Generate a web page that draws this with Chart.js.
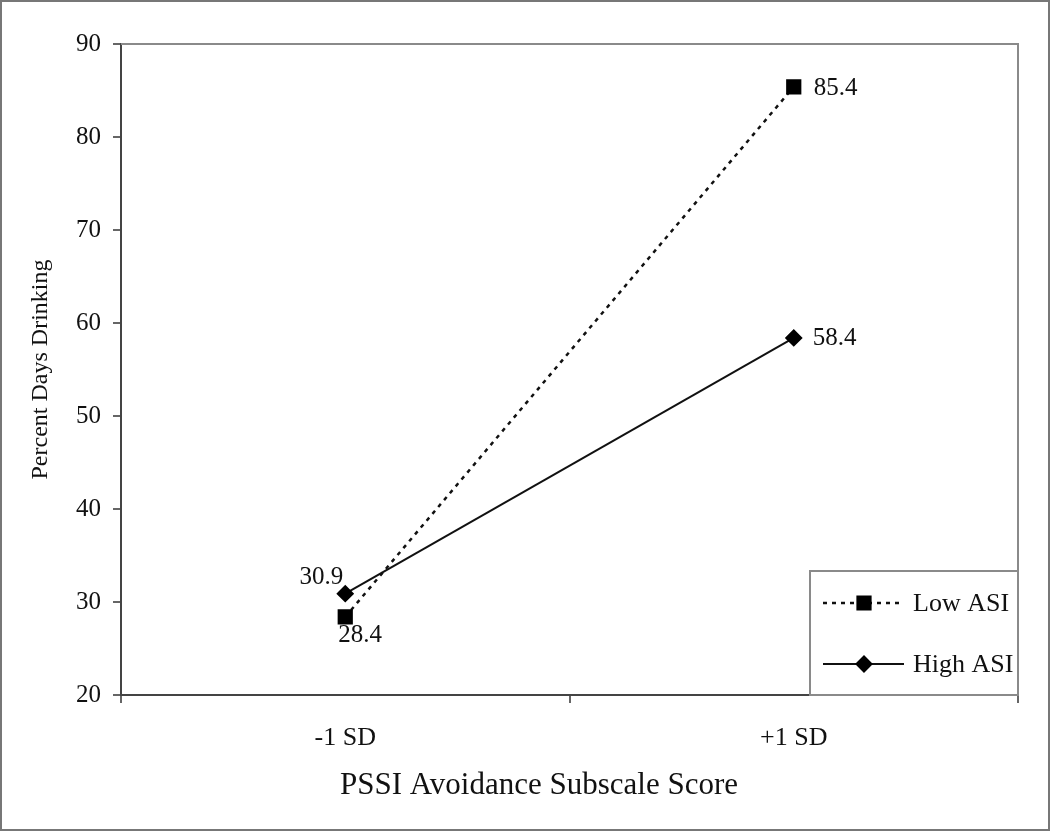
<!DOCTYPE html>
<html>
<head>
<meta charset="utf-8">
<script src="https://cdn.jsdelivr.net/npm/chart.js@4"></script>
<style>
    html, body { margin: 0; padding: 0; background: #fff; }
    #wrap { width: 1050px; height: 831px; position: relative; }
</style>
</head>
<body>
<div id="wrap"><canvas id="interactionChart"></canvas></div>
<script>
// Data
const categories = ['-1 SD', '+1 SD'];
const lowASI = [28.4, 85.4];
const highASI = [30.9, 58.4];
const yTicks = { min: 20, max: 90, step: 10 };
const xTitle = 'PSSI Avoidance Subscale Score';

const serif = "'Liberation Serif', 'Times New Roman', serif";

// value labels next to each point: [dx, dy, align]
const labelPlacement = [
    [[-7, 19, 'left'], [20, 2, 'left']],    // Low ASI
    [[-2, -16, 'right'], [19, 1, 'left']],  // High ASI
];

// Frame, plot border, value labels, x title and in-plot legend
const decorations = {
    id: 'decorations',
    afterDatasetsDraw(chart) {
        const ctx = chart.ctx;
        const { left, right, top, bottom } = chart.chartArea;
        ctx.save();

        // top + right edge of plot
        ctx.strokeStyle = '#8a8a8a';
        ctx.lineWidth = 2;
        ctx.beginPath();
        ctx.moveTo(left, top);
        ctx.lineTo(right, top);
        ctx.lineTo(right, bottom);
        ctx.stroke();

        // value labels
        ctx.fillStyle = '#111';
        ctx.font = '25px ' + serif;
        ctx.textBaseline = 'middle';
        chart.data.datasets.forEach((ds, i) => {
            chart.getDatasetMeta(i).data.forEach((pt, j) => {
                const [dx, dy, align] = labelPlacement[i][j];
                ctx.textAlign = align;
                ctx.fillText(ds.data[j].toFixed(1), pt.x + dx, pt.y + dy);
            });
        });

        // x axis title (sits a bit left of the plot centre in the original)
        ctx.font = '31px ' + serif;
        ctx.textAlign = 'center';
        ctx.fillText(xTitle, 539, 786);

        // legend box
        const box = { x: 810, y: 571, w: right - 810, h: bottom - 571 };
        ctx.fillStyle = '#fff';
        ctx.fillRect(box.x, box.y, box.w, box.h);
        ctx.strokeStyle = '#8a8a8a';
        ctx.lineWidth = 2;
        ctx.strokeRect(box.x, box.y, box.w, box.h);

        const rows = [603, 664];
        chart.data.datasets.forEach((ds, i) => {
            const y = rows[i];
            ctx.strokeStyle = ds.borderColor;
            ctx.lineWidth = ds.borderWidth;
            ctx.setLineDash(ds.borderDash || []);
            ctx.beginPath();
            ctx.moveTo(823, y);
            ctx.lineTo(904, y);
            ctx.stroke();
            ctx.setLineDash([]);
            ctx.fillStyle = ds.pointBackgroundColor;
            ctx.strokeStyle = ds.pointBorderColor;
            Chart.helpers.drawPoint(ctx, {
                pointStyle: ds.pointStyle, radius: ds.pointRadius, borderWidth: 1, rotation: 0
            }, 864, y);
            ctx.fillStyle = '#111';
            ctx.font = '26px ' + serif;
            ctx.textAlign = 'left';
            ctx.fillText(ds.label, 913, y + 1);
        });

        ctx.restore();
    },
    afterDraw(chart) {
        const ctx = chart.ctx;
        ctx.save();
        ctx.strokeStyle = '#777';
        ctx.lineWidth = 2;
        ctx.strokeRect(1, 1, chart.width - 2, chart.height - 2);
        ctx.restore();
    }
};

new Chart(document.getElementById('interactionChart').getContext('2d'), {
    type: 'line',
    data: {
        labels: categories,
        datasets: [
            {
                label: 'Low ASI', data: lowASI,
                borderColor: '#111', borderWidth: 2.5, borderDash: [4, 5],
                pointStyle: 'rect', pointRadius: 9,
                pointBackgroundColor: '#000', pointBorderColor: '#000',
            },
            {
                label: 'High ASI', data: highASI,
                borderColor: '#111', borderWidth: 2, borderDash: [],
                pointStyle: 'rectRot', pointRadius: 7.5,
                pointBackgroundColor: '#000', pointBorderColor: '#000',
            },
        ],
    },
    options: {
        responsive: true,
        maintainAspectRatio: false,
        animation: false,
        layout: { padding: { left: 0, right: 32, top: 44, bottom: 0 } },
        plugins: {
            legend: { display: false },
            tooltip: { enabled: false },
        },
        scales: {
            x: {
                offset: true,
                grid: { offset: true, drawOnChartArea: false, drawTicks: true, tickLength: 8, color: '#666', lineWidth: 2 },
                border: { display: true, color: '#444', width: 2 },
                ticks: { color: '#111', font: { family: serif, size: 26 }, padding: 20 },
                title: { display: false },
                afterFit: (s) => { s.height = 136; },
            },
            y: {
                min: yTicks.min, max: yTicks.max,
                grid: { drawOnChartArea: false, drawTicks: true, tickLength: 8, color: '#666', lineWidth: 2 },
                border: { display: true, color: '#444', width: 2 },
                ticks: { stepSize: yTicks.step, color: '#111', font: { family: serif, size: 25 }, padding: 12 },
                title: { display: true, text: 'Percent Days Drinking', color: '#111',
                         font: { family: serif, size: 24 }, padding: { top: 26, bottom: 0 } },
                afterFit: (s) => { s.width = 121; },
            },
        },
    },
    plugins: [decorations],
});
</script>
</body>
</html>
